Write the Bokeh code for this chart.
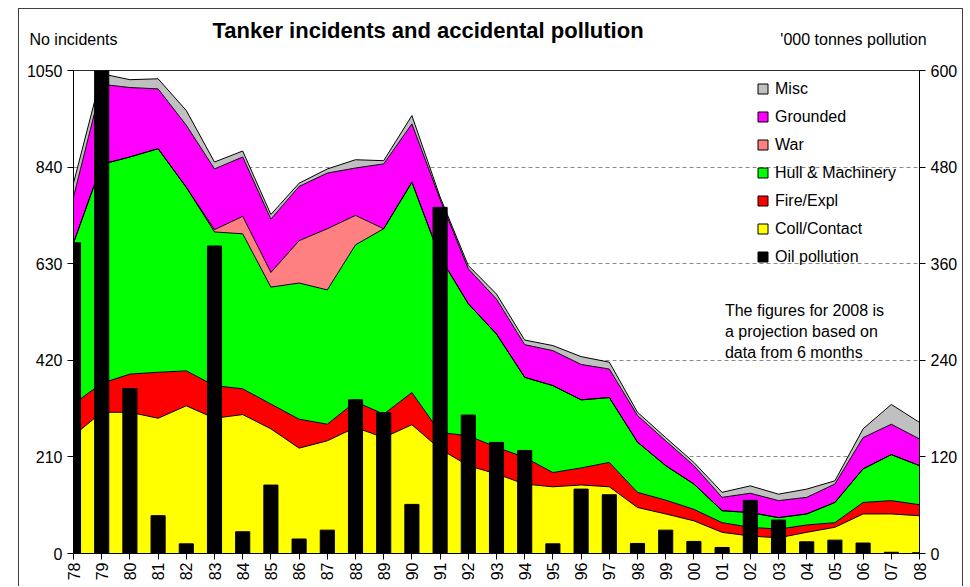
import numpy as np
from bokeh.plotting import figure
from bokeh.models import (ColumnDataSource, Range1d, LinearAxis, FixedTicker,
                          Legend, LegendItem, Label)
from bokeh.embed import file_html
from bokeh.resources import INLINE

# ---------------- data ----------------
years = ["78", "79", "80", "81", "82", "83", "84", "85", "86", "87", "88", "89",
         "90", "91", "92", "93", "94", "95", "96", "97", "98", "99", "00", "01",
         "02", "03", "04", "05", "06", "07", "08"]

# number of incidents per cause (left axis)
coll_contact = [256, 307, 307, 294, 321, 294, 302, 271, 229, 245, 274, 252, 280, 227, 191, 173,
                151, 145, 149, 145, 100, 86, 71, 46, 38, 34, 46, 57, 86, 86, 82]
fire_expl = [69, 63, 83, 100, 76, 71, 56, 54, 63, 36, 56, 51, 70, 36, 65, 58,
             58, 31, 37, 53, 33, 30, 25, 21, 19, 19, 16, 10, 25, 29, 24]
hull_machinery = [350, 476, 472, 486, 399, 334, 337, 254, 296, 292, 341, 403, 457, 381, 287, 246,
                  174, 189, 148, 141, 109, 75, 55, 26, 32, 25, 24, 44, 73, 100, 85]
war = [0, 0, 0, 0, 0, 5, 38, 32, 92, 133, 64, 0, 0, 0, 0, 0,
       0, 0, 0, 0, 0, 0, 0, 0, 0, 0, 0, 0, 0, 0, 0]
grounded = [100, 174, 151, 130, 135, 132, 129, 116, 118, 121, 103, 141, 127, 126, 76, 76,
            71, 76, 77, 62, 58, 54, 40, 29, 42, 37, 36, 40, 68, 66, 58]
misc = [30, 23, 17, 22, 32, 15, 13, 10, 7, 9, 18, 7, 18, 5, 7, 11,
        10, 11, 17, 15, 7, 7, 7, 11, 16, 14, 18, 7, 19, 43, 36]

# oil pollution, '000 tonnes (right axis)
oil_pollution = [386, 610, 205, 47, 12, 382, 27, 85, 18, 29, 191, 175, 61, 430, 172, 138,
                 128, 12, 80, 73, 12.5, 29, 15, 7.5, 66, 41.5, 14.5, 16.6, 13, 1.5, 1]

series_keys = ["coll", "fire", "hull", "war", "grounded", "misc"]
series_colors = ["#FFFF00", "#FF0000", "#00FF00", "#FF8080", "#FF00FF", "#C0C0C0"]

legend_names = ["Misc", "Grounded", "War", "Hull & Machinery", "Fire/Expl",
                "Coll/Contact", "Oil pollution"]
legend_colors = ["#C0C0C0", "#FF00FF", "#FF8080", "#00FF00", "#FF0000", "#FFFF00", "#000000"]

left_ticks = [0, 210, 420, 630, 840, 1050]
right_ticks = [0, 120, 240, 360, 480, 600]

title_text = "Tanker incidents and accidental pollution"
left_unit = "No incidents"
right_unit = "'000 tonnes pollution"

FONT = "Liberation Sans"
FS = "16px"

# ---------------- chart ----------------
xs = list(range(len(years)))
src = ColumnDataSource(dict(x=xs, coll=coll_contact, fire=fire_expl, hull=hull_machinery,
                            war=war, grounded=grounded, misc=misc, oil=oil_pollution))

p = figure(width=945, height=578, x_range=Range1d(0, len(years) - 1),
           y_range=Range1d(0, 1050), output_backend="svg", toolbar_location=None,
           title=title_text,
           min_border_left=54, min_border_right=45, min_border_top=61,
           min_border_bottom=34)
p.margin = (8, 0, 0, 18)
p.styles = {"border-left": "1px solid #404040", "border-top": "1px solid #404040",
            "border-right": "1px solid #404040"}
p.background_fill_color = "white"
p.border_fill_color = "white"
p.outline_line_color = "#303030"
p.outline_line_width = 1

p.title.align = "left"
p.title.offset = 139
p.title.standoff = -30
p.title.text_font = FONT
p.title.text_font_size = "22px"
p.title.text_font_style = "bold"
p.title.text_color = "black"

p.extra_y_ranges = {"poll": Range1d(0, 600)}
p.extra_x_ranges = {"units": Range1d(0, 846)}

# grid
p.xgrid.visible = False
p.ygrid.ticker = FixedTicker(ticks=left_ticks)
p.ygrid.grid_line_color = "#8a8a8a"
p.ygrid.grid_line_dash = "4 3"
p.ygrid.grid_line_width = 1

# stacked areas + outlines
p.varea_stack(stackers=series_keys, x="x", color=series_colors, source=src)
p.vline_stack(stackers=series_keys, x="x", color="black", line_width=1, source=src)

# pollution bars
p.vbar(x="x", top="oil", width=0.5, y_range_name="poll", color="black", source=src)

# axes
def style_axis(ax):
    ax.axis_line_color = "black"
    ax.major_tick_line_color = "black"
    ax.major_tick_out = 6
    ax.major_tick_in = 0
    ax.minor_tick_line_color = None
    ax.major_label_text_font = FONT
    ax.major_label_text_font_size = FS
    ax.major_label_text_color = "black"
    ax.major_label_standoff = 5

p.yaxis.ticker = FixedTicker(ticks=left_ticks)
style_axis(p.yaxis[0])

p.xaxis.ticker = FixedTicker(ticks=xs)
p.xaxis.major_label_overrides = {i: y for i, y in enumerate(years)}
p.xaxis.major_label_orientation = np.pi / 2
style_axis(p.xaxis[0])
p.xaxis.major_tick_out = 6
p.xaxis.major_label_standoff = 3

rax = LinearAxis(y_range_name="poll", ticker=FixedTicker(ticks=right_ticks))
style_axis(rax)
p.add_layout(rax, "right")

# unit captions above the plot area (as labels of a bare top axis)
uax = LinearAxis(x_range_name="units", ticker=FixedTicker(ticks=[0, 780]))
uax.major_label_overrides = {0: left_unit, 780: right_unit}
uax.axis_line_color = None
uax.major_tick_line_color = None
uax.minor_tick_line_color = None
uax.major_tick_out = 0
uax.major_tick_in = 0
uax.major_label_standoff = 23
uax.major_label_text_font = FONT
uax.major_label_text_font_size = FS
uax.major_label_text_color = "black"
p.add_layout(uax, "above")

# legend (square swatches with black outline; legend-only renderers, nothing drawn)
items = []
for name, col in zip(legend_names, legend_colors):
    r = p.scatter(x=[xs[0]], y=[np.nan], marker="square", size=10,
                  fill_color=col, line_color="black")
    items.append(LegendItem(label=name, renderers=[r]))
legend = Legend(items=items, location=(677, 284), padding=0, margin=0, spacing=3,
                glyph_width=25, glyph_height=25, label_height=25, label_standoff=0,
                label_text_font=FONT, label_text_font_size=FS,
                label_text_color="black", border_line_color=None,
                background_fill_alpha=0)
p.add_layout(legend, "center")

# projection note (inside the plot area)
note = ["The figures for 2008 is", "a projection based on", "data from 6 months"]
for k, line in enumerate(note):
    p.add_layout(Label(x=23.1, y=528 - 46 * k, text=line, text_align="left",
                       text_baseline="middle", text_font=FONT, text_font_size=FS,
                       text_color="black"))

open("out.html", "w").write(file_html(p, INLINE))
